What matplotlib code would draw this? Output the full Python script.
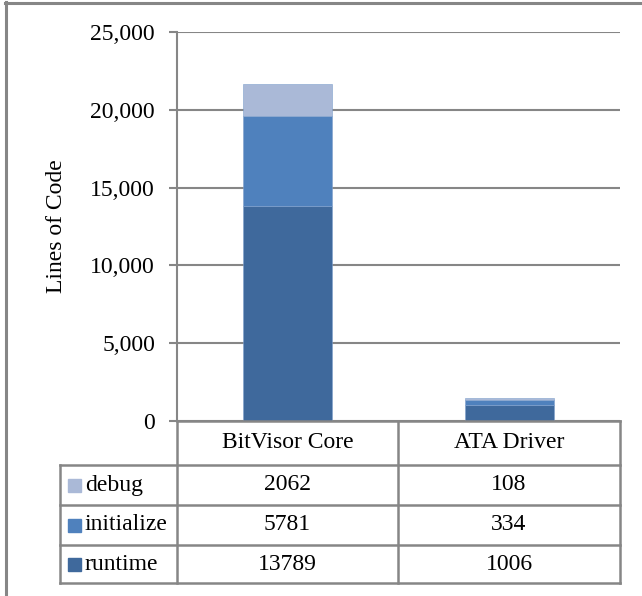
import matplotlib
matplotlib.use("Agg")
import matplotlib.pyplot as plt
from matplotlib.lines import Line2D
from matplotlib.patches import Rectangle

categories = ["BitVisor Core", "ATA Driver"]
series_names = ["debug", "initialize", "runtime"]
debug = [2062, 108]
initialize = [5781, 334]
runtime = [13789, 1006]
colors = {"runtime": "#3F699C", "initialize": "#4F81BD", "debug": "#AAB9D7"}
yticks = [0, 5000, 10000, 15000, 20000, 25000]

W, H = 642, 596
FS = 17
plt.rcParams["font.family"] = ["Liberation Serif", "DejaVu Serif"]
fig = plt.figure(figsize=(W / 100, H / 100), dpi=100)

def fx(px):
    return px / W

def fy(py):
    return 1 - py / H

gray = "#868686"
ax_l, ax_r, ax_t, ax_b = 177, 620, 32, 421
ax = fig.add_axes([fx(ax_l), fy(ax_b), fx(ax_r) - fx(ax_l), fy(ax_t) - fy(ax_b)])

x = list(range(len(categories)))
bottoms = [0] * len(categories)
for name, vals in [("runtime", runtime), ("initialize", initialize), ("debug", debug)]:
    ax.bar(x, vals, width=0.4, bottom=bottoms, color=colors[name], zorder=3,
           edgecolor="#7FA0CC", linewidth=0.4)
    bottoms = [b + v for b, v in zip(bottoms, vals)]

ax.set_xlim(-0.5, len(categories) - 0.5)
ax.set_ylim(0, 25000)
ax.set_yticks(yticks)
ax.set_yticklabels([f"{v:,}" for v in yticks], fontsize=FS)
ax.set_xticks([])
ax.yaxis.grid(True, color=gray, linewidth=1.5, zorder=0)
for s in ["top", "right", "bottom"]:
    ax.spines[s].set_visible(False)
ax.spines["left"].set_color(gray)
ax.spines["left"].set_linewidth(1.5)
ax.tick_params(axis="y", length=5.8, width=1.5, color=gray, pad=10)
ax.set_ylabel("Lines of Code", fontsize=FS)
ax.yaxis.set_label_coords((67 - ax_l) / (ax_r - ax_l), 0.5)

# Data table
def hline(x0, x1, y):
    fig.add_artist(Line2D([fx(x0), fx(x1)], [fy(y), fy(y)], color=gray, linewidth=1.8))

def vline(xp, y0, y1):
    fig.add_artist(Line2D([fx(xp), fx(xp)], [fy(y0), fy(y1)], color=gray, linewidth=1.8))

tab_left = 60
row_y = [421, 465, 505, 545, 583]
col_x = [ax_l, 398, ax_r]
hline(ax_l, ax_r, row_y[0])
for y in row_y[1:]:
    hline(tab_left, ax_r, y)
vline(tab_left, row_y[1], row_y[-1])
vline(ax_l, row_y[0], row_y[-1])
vline(col_x[1], row_y[0], row_y[-1])
vline(ax_r, row_y[0], row_y[-1])

for i, c in enumerate(categories):
    cx = (col_x[i] + col_x[i + 1]) / 2
    fig.text(fx(cx), fy((row_y[0] + row_y[1]) / 2), c, ha="center", va="center", fontsize=FS)

table_rows = [("debug", debug), ("initialize", initialize), ("runtime", runtime)]
for r, (name, vals) in enumerate(table_rows):
    cy = (row_y[r + 1] + row_y[r + 2]) / 2
    fig.add_artist(Rectangle((fx(68), fy(cy + 6.5)), fx(13), 13 / H,
                             color=colors[name], transform=fig.transFigure))
    fig.text(fx(85), fy(cy), name, ha="left", va="center", fontsize=FS)
    for i, v in enumerate(vals):
        cx = (col_x[i] + col_x[i + 1]) / 2
        fig.text(fx(cx), fy(cy), str(v), ha="center", va="center", fontsize=FS)

# Outer chart border (left and top visible)
fig.add_artist(Line2D([fx(6), fx(6)], [fy(2), fy(H)], color=gray, linewidth=2.2))
fig.add_artist(Line2D([fx(5), fx(W)], [fy(3), fy(3)], color=gray, linewidth=2.2))

fig.savefig("out.png", dpi=100)
